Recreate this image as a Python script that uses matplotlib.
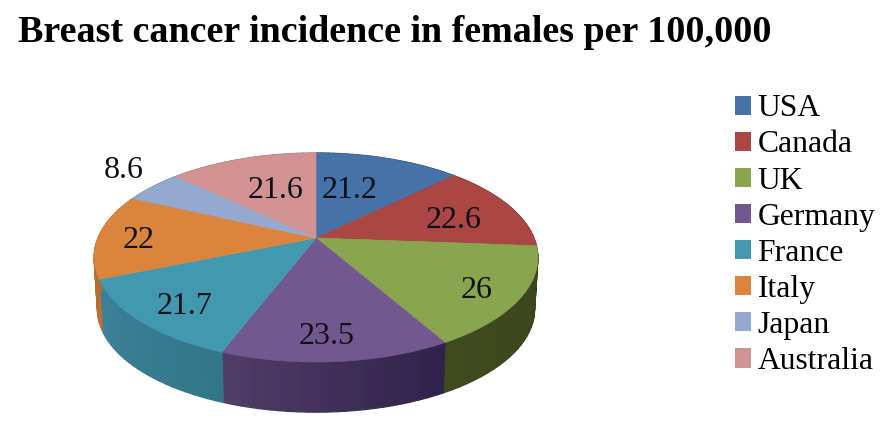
import numpy as np
import matplotlib
matplotlib.use("Agg")
import matplotlib.pyplot as plt
from matplotlib.patches import Patch, Polygon
from matplotlib.collections import PolyCollection
from matplotlib.colors import to_rgb

title = "Breast cancer incidence in females per 100,000"
countries = ["USA", "Canada", "UK", "Germany", "France", "Italy", "Japan", "Australia"]
incidence = [21.2, 22.6, 26, 23.5, 21.7, 22, 8.6, 21.6]
value_labels = ["21.2", "22.6", "26", "23.5", "21.7", "22", "8.6", "21.6"]

top_colors = ["#4572a7", "#aa4643", "#89a54e", "#71588f", "#4198af", "#db843d", "#93a9cf", "#d19392"]
wall_left = ["#2a4464", "#662a28", "#3f4a1f", "#4f3d66", "#3e8096", "#a8642c", "#6f80a0", "#a07070"]
wall_right = ["#2a4464", "#662a28", "#3a451c", "#30224a", "#337689", "#c0702f", "#6f80a0", "#a07070"]
label_xy = [(350, 190), (454, 221), (477, 291), (327, 336), (185, 306), (139, 241), (124, 171), (276, 190)]

FONT = "Liberation Serif"
APEX = (316.0, 238.0)
A, B, K = 218.0, 100.9, 0.1866   # perspective disc
WALL_SCALE, WALL_DROP = 0.985, 52.0


def rim(theta, scale=1.0, drop=0.0):
    x, y = np.sin(theta), np.cos(theta)
    w = 1 + K * y
    return APEX[0] + scale * A * x / w, APEX[1] + drop - scale * B * y / w


fig = plt.figure(figsize=(8.93, 4.32), dpi=100)
ax = fig.add_axes([0, 0, 1, 1])
ax.set_xlim(0, 893)
ax.set_ylim(432, 0)
ax.axis("off")

edges = np.concatenate([[0], np.cumsum(incidence)]) / np.sum(incidence) * 2 * np.pi

# side wall
for i in range(len(incidence)):
    t = np.linspace(edges[i], edges[i + 1], 25)
    x0, y0 = rim(t)
    x1, y1 = rim(t, WALL_SCALE, WALL_DROP)
    quads, cols = [], []
    c_l, c_r = np.array(to_rgb(wall_left[i])), np.array(to_rgb(wall_right[i]))
    for j in range(len(t) - 1):
        quads.append([(x0[j], y0[j]), (x0[j + 1], y0[j + 1]), (x1[j + 1], y1[j + 1]), (x1[j], y1[j])])
        f = j / (len(t) - 2)
        # clockwise in angle runs right-to-left along the front
        cols.append(c_r * (1 - f) + c_l * f)
    ax.add_collection(PolyCollection(quads, facecolors=cols, edgecolors=cols, linewidths=0.9, zorder=2))

# top surface
for i in range(len(incidence)):
    t = np.linspace(edges[i], edges[i + 1], 80)
    x, y = rim(t)
    pts = np.column_stack([np.r_[APEX[0], x], np.r_[APEX[1], y]])
    ax.add_patch(Polygon(pts, closed=True, facecolor=top_colors[i], edgecolor=top_colors[i], linewidth=0.4, zorder=3))

for (x, y), s in zip(label_xy, value_labels):
    ax.text(x, y, s, family=FONT, fontsize=23, ha="center", va="center", color="#101018", zorder=5)

ax.text(18, 32, title, family=FONT, fontsize=27.35, fontweight="bold", ha="left", va="center", color="black")

handles = [Patch(facecolor=c, edgecolor="none") for c in top_colors]
ax.legend(handles, countries, loc="upper left", bbox_to_anchor=(729, 88), bbox_transform=ax.transData,
          frameon=False, prop={"family": FONT, "size": 22.8}, handlelength=0.5, handleheight=0.55,
          handletextpad=0.2, labelspacing=0.225, borderpad=0.2, borderaxespad=0)

fig.savefig("out.png", dpi=100, facecolor="white")
